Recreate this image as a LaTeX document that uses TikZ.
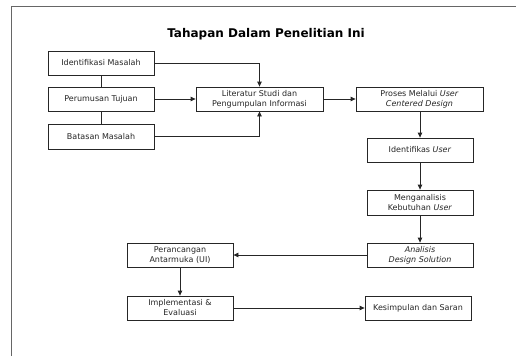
\documentclass[tikz,border=0pt]{standalone}
\usepackage{fontspec}
\setmainfont{DejaVu Sans}
\usetikzlibrary{arrows.meta}
\begin{document}
\begin{tikzpicture}[x=1pt,y=-1pt,
  box/.style={draw=black!85,line width=0.8pt,fill=white,minimum height=24pt,
    minimum width=106pt,inner sep=1pt,align=center,font=\fontsize{8}{10}\selectfont,text=black!85},
  wide/.style={box,minimum width=127pt},
  link/.style={line width=0.8pt,draw=black!85},
  flow/.style={link,-{Triangle[length=5pt,width=4.5pt]}}]
\useasboundingbox (0,0) rectangle (516,356);
% partial outer frame
\draw[line width=1.8pt,draw=black!60] (11.5,356) -- (11.5,6.5) -- (516,6.5);
% title
\node[font=\fontsize{12}{14}\bfseries\selectfont] (title) at (266,34) {Tahapan Dalam Penelitian Ini};
% left column
\node[box] (idm) at (101,63) {Identifikasi Masalah};
\node[box] (pt) at (101,99) {Perumusan Tujuan};
\node[box,minimum height=25pt] (bm) at (101,136.5) {Batasan Masalah};
% main flow
\node[wide] (lit) at (259.5,99) {Literatur Studi dan\\Pengumpulan Informasi};
\node[wide] (pros) at (419.5,99) {Proses Melalui \textit{User}\\\textit{Centered Design}};
\node[box] (idu) at (420,150) {Identifikas \textit{User}};
\node[box,minimum height=25pt] (mkb) at (420,202.5) {Menganalisis\\Kebutuhan \textit{User}};
\node[box] (ads) at (420,255) {\textit{Analisis}\\\textit{Design Solution}};
\node[box] (pa) at (180,255) {Perancangan\\Antarmuka (UI)};
\node[box] (ie) at (180,308) {Implementasi \&\\Evaluasi};
\node[box] (ks) at (418,308) {Kesimpulan dan Saran};
% connectors
\draw[link] (idm) -- (pt);
\draw[link] (pt) -- (bm);
\draw[flow] (idm.east) -| (lit.north);
\draw[flow] (pt.east) -- (lit.west);
\draw[flow] (bm.east) -| (lit.south);
\draw[flow] (lit.east) -- (pros.west);
\draw[flow] (pros.south -| idu.north) -- (idu.north);
\draw[flow] (idu) -- (mkb);
\draw[flow] (mkb) -- (ads);
\draw[flow] (ads.west) -- (pa.east);
\draw[flow] (pa) -- (ie);
\draw[flow] (ie.east) -- (ks.west);
\end{tikzpicture}
\end{document}
